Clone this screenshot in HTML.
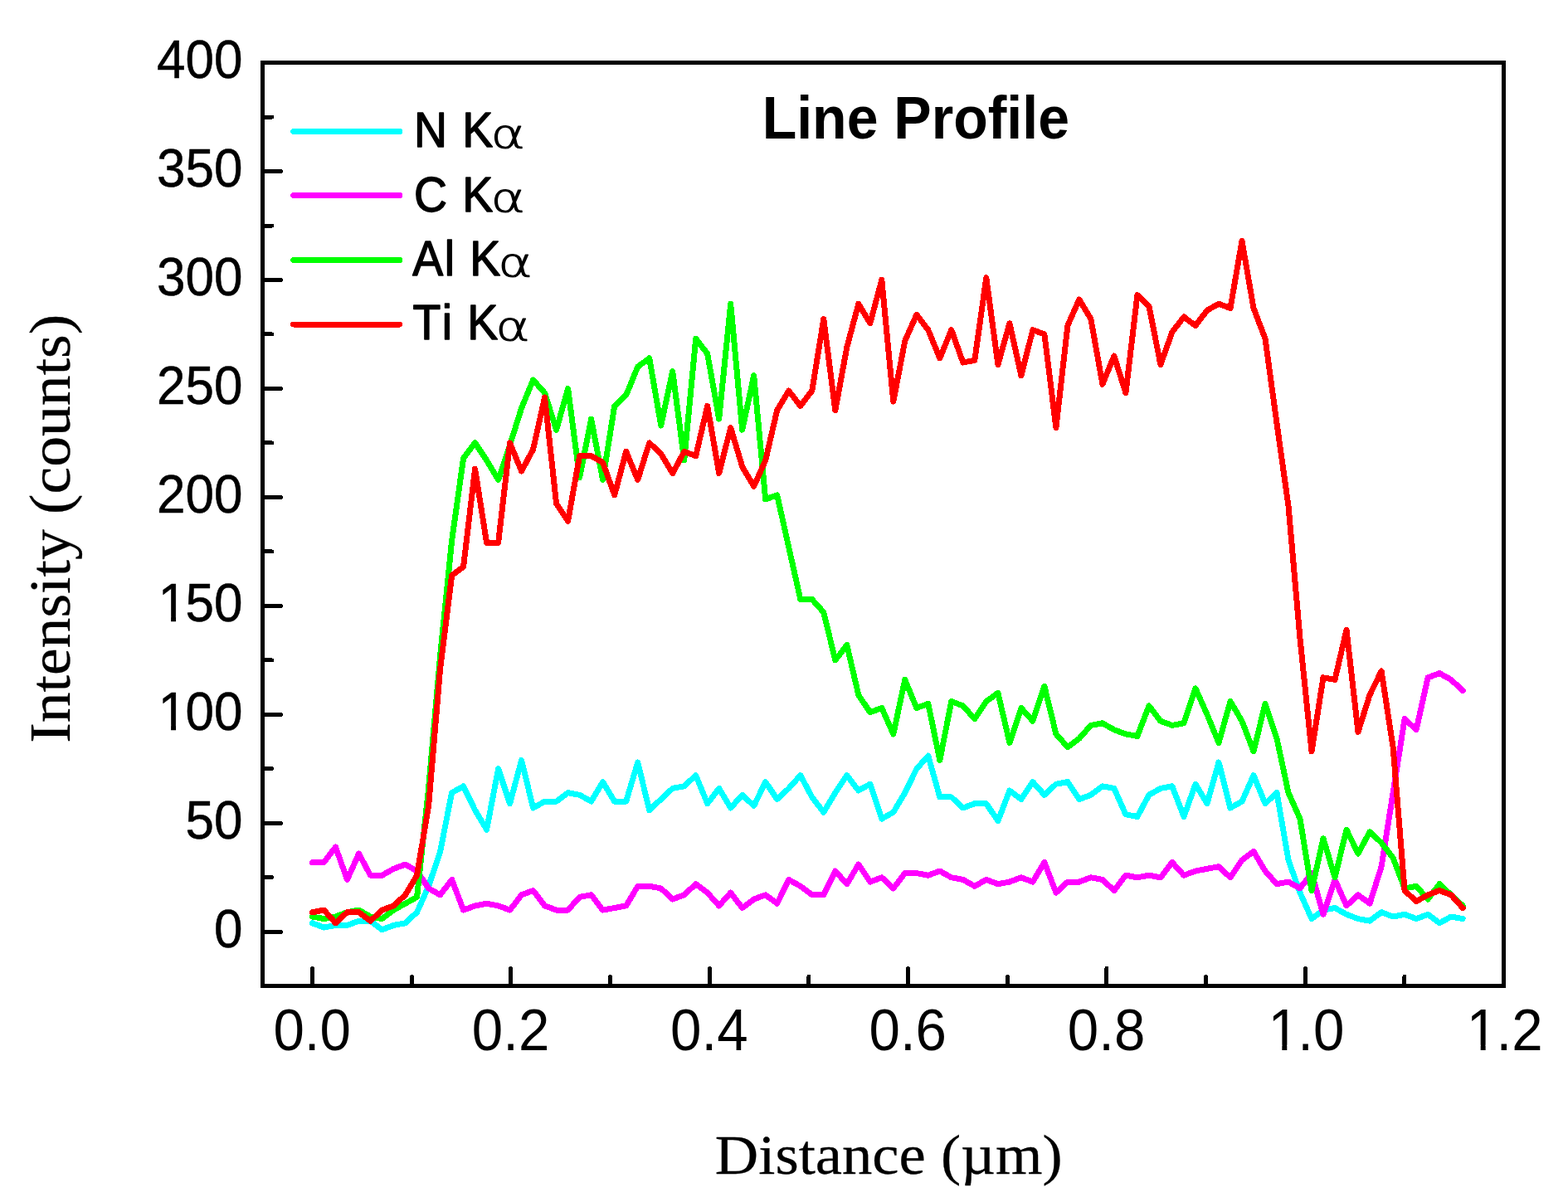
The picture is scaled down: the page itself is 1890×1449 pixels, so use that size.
<!DOCTYPE html>
<html><head><meta charset="utf-8"><title>Line Profile</title>
<style>html,body{margin:0;padding:0;background:#fff;}svg{display:block;}text{fill:#000;font-kerning:none;}.sans{font-family:"Liberation Sans",Arial,Helvetica,sans-serif;}.serif{font-family:"Liberation Serif","Times New Roman",serif;}</style></head><body>
<svg width="1890" height="1449" viewBox="0 0 1890 1449">
<rect x="0" y="0" width="1890" height="1449" fill="#fff"/>
<g shape-rendering="crispEdges">
<polyline points="376.5,1112.8 390.5,1118.1 404.5,1115.4 418.5,1115.4 432.5,1110.2 446.5,1110.2 460.5,1120.7 474.5,1115.4 488.5,1112.8 502.6,1099.7 516.6,1068.3 530.6,1026.4 544.6,955.7 558.6,947.8 572.6,976.6 586.6,1000.2 600.6,926.8 614.6,968.7 628.6,916.4 642.6,974.0 656.6,966.1 670.6,966.1 684.6,955.7 698.6,958.3 712.6,966.1 726.6,942.6 740.7,966.1 754.7,966.1 768.7,919.0 782.7,976.6 796.7,963.5 810.7,950.4 824.7,947.8 838.7,934.7 852.7,968.7 866.7,950.4 880.7,974.0 894.7,958.3 908.7,971.4 922.7,942.6 936.7,963.5 950.7,950.4 964.8,934.7 978.8,960.9 992.8,979.2 1006.8,955.7 1020.8,934.7 1034.8,953.0 1048.8,945.2 1062.8,987.1 1076.8,979.2 1090.8,955.7 1104.8,926.8 1118.8,911.1 1132.8,960.9 1146.8,960.9 1160.8,974.0 1174.8,968.7 1188.8,968.7 1202.9,989.7 1216.9,953.0 1230.9,963.5 1244.9,942.6 1258.9,958.3 1272.9,945.2 1286.9,942.6 1300.9,963.5 1314.9,958.3 1328.9,947.8 1342.9,950.4 1356.9,981.8 1370.9,984.5 1384.9,958.3 1398.9,950.4 1412.9,947.8 1427.0,984.5 1441.0,945.2 1455.0,968.7 1469.0,919.0 1483.0,974.0 1497.0,966.1 1511.0,934.7 1525.0,968.7 1539.0,955.7 1553.0,1036.9 1567.0,1076.1 1581.0,1107.6 1595.0,1097.1 1609.0,1094.5 1623.0,1102.3 1637.0,1107.6 1651.0,1110.2 1665.1,1099.7 1679.1,1105.0 1693.1,1102.3 1707.1,1107.6 1721.1,1102.3 1735.1,1112.8 1749.1,1105.0 1763.1,1107.6" fill="none" stroke="#00ffff" stroke-width="7" stroke-linejoin="round" stroke-linecap="round"/>
<polyline points="376.5,1039.5 390.5,1039.5 404.5,1021.1 418.5,1060.4 432.5,1029.0 446.5,1055.2 460.5,1055.2 474.5,1047.3 488.5,1042.1 502.6,1050.0 516.6,1070.9 530.6,1078.8 544.6,1060.4 558.6,1097.1 572.6,1091.9 586.6,1089.2 600.6,1091.9 614.6,1097.1 628.6,1078.8 642.6,1073.5 656.6,1091.9 670.6,1097.1 684.6,1097.1 698.6,1081.4 712.6,1078.8 726.6,1097.1 740.7,1094.5 754.7,1091.9 768.7,1068.3 782.7,1068.3 796.7,1070.9 810.7,1084.0 824.7,1078.8 838.7,1065.7 852.7,1076.1 866.7,1091.9 880.7,1076.1 894.7,1094.5 908.7,1084.0 922.7,1078.8 936.7,1089.2 950.7,1060.4 964.8,1068.3 978.8,1078.8 992.8,1078.8 1006.8,1050.0 1020.8,1065.7 1034.8,1042.1 1048.8,1063.1 1062.8,1057.8 1076.8,1070.9 1090.8,1052.6 1104.8,1052.6 1118.8,1055.2 1132.8,1050.0 1146.8,1057.8 1160.8,1060.4 1174.8,1068.3 1188.8,1060.4 1202.9,1065.7 1216.9,1063.1 1230.9,1057.8 1244.9,1063.1 1258.9,1039.5 1272.9,1076.1 1286.9,1063.1 1300.9,1063.1 1314.9,1057.8 1328.9,1060.4 1342.9,1073.5 1356.9,1055.2 1370.9,1057.8 1384.9,1055.2 1398.9,1057.8 1412.9,1039.5 1427.0,1055.2 1441.0,1050.0 1455.0,1047.3 1469.0,1044.7 1483.0,1057.8 1497.0,1036.9 1511.0,1026.4 1525.0,1050.0 1539.0,1065.7 1553.0,1063.1 1567.0,1070.9 1581.0,1052.6 1595.0,1102.3 1609.0,1060.4 1623.0,1091.9 1637.0,1078.8 1651.0,1089.2 1665.1,1044.7 1679.1,955.7 1693.1,866.6 1707.1,879.7 1721.1,816.8 1735.1,811.6 1749.1,819.4 1763.1,832.5" fill="none" stroke="#ff00ff" stroke-width="7" stroke-linejoin="round" stroke-linecap="round"/>
<polyline points="376.5,1105.0 390.5,1107.6 404.5,1105.0 418.5,1099.7 432.5,1097.1 446.5,1105.0 460.5,1107.6 474.5,1097.1 488.5,1089.2 502.6,1081.4 516.6,950.4 530.6,790.6 544.6,651.8 558.6,552.2 572.6,533.9 586.6,554.9 600.6,578.4 614.6,536.5 628.6,492.0 642.6,457.9 656.6,473.7 670.6,518.2 684.6,468.4 698.6,575.8 712.6,505.1 726.6,578.4 740.7,489.4 754.7,476.3 768.7,442.2 782.7,431.8 796.7,513.0 810.7,447.5 824.7,554.9 838.7,408.2 852.7,426.5 866.7,505.1 880.7,366.3 894.7,518.2 908.7,452.7 922.7,602.0 936.7,596.8 950.7,659.6 964.8,722.5 978.8,722.5 992.8,738.2 1006.8,795.9 1020.8,777.5 1034.8,837.8 1048.8,858.7 1062.8,853.5 1076.8,884.9 1090.8,819.4 1104.8,853.5 1118.8,848.3 1132.8,916.4 1146.8,845.6 1160.8,850.9 1174.8,866.6 1188.8,845.6 1202.9,835.2 1216.9,895.4 1230.9,853.5 1244.9,869.2 1258.9,827.3 1272.9,884.9 1286.9,900.6 1300.9,890.2 1314.9,874.4 1328.9,871.8 1342.9,879.7 1356.9,884.9 1370.9,887.5 1384.9,850.9 1398.9,869.2 1412.9,874.4 1427.0,871.8 1441.0,829.9 1455.0,861.3 1469.0,895.4 1483.0,845.6 1497.0,869.2 1511.0,905.9 1525.0,848.3 1539.0,890.2 1553.0,955.7 1567.0,987.1 1581.0,1073.5 1595.0,1010.7 1609.0,1057.8 1623.0,1000.2 1637.0,1029.0 1651.0,1002.8 1665.1,1015.9 1679.1,1034.2 1693.1,1070.9 1707.1,1068.3 1721.1,1084.0 1735.1,1065.7 1749.1,1078.8 1763.1,1091.9" fill="none" stroke="#00ff00" stroke-width="7" stroke-linejoin="round" stroke-linecap="round"/>
<polyline points="376.5,1099.7 390.5,1097.1 404.5,1112.8 418.5,1099.7 432.5,1099.7 446.5,1110.2 460.5,1097.1 474.5,1091.9 488.5,1078.8 502.6,1055.2 516.6,971.4 530.6,806.3 544.6,693.7 558.6,683.2 572.6,565.3 586.6,654.4 600.6,654.4 614.6,533.9 628.6,568.0 642.6,541.8 656.6,478.9 670.6,607.3 684.6,628.2 698.6,549.6 712.6,549.6 726.6,557.5 740.7,596.8 754.7,544.4 768.7,578.4 782.7,533.9 796.7,547.0 810.7,570.6 824.7,544.4 838.7,549.6 852.7,489.4 866.7,570.6 880.7,515.6 894.7,562.7 908.7,586.3 922.7,554.9 936.7,494.6 950.7,471.0 964.8,489.4 978.8,471.0 992.8,384.6 1006.8,494.6 1020.8,418.7 1034.8,366.3 1048.8,389.8 1062.8,337.4 1076.8,484.1 1090.8,410.8 1104.8,379.4 1118.8,397.7 1132.8,431.8 1146.8,397.7 1160.8,437.0 1174.8,434.4 1188.8,334.8 1202.9,439.6 1216.9,389.8 1230.9,452.7 1244.9,397.7 1258.9,402.9 1272.9,515.6 1286.9,392.5 1300.9,361.0 1314.9,384.6 1328.9,463.2 1342.9,429.1 1356.9,473.7 1370.9,355.8 1384.9,368.9 1398.9,439.6 1412.9,400.3 1427.0,382.0 1441.0,392.5 1455.0,374.1 1469.0,366.3 1483.0,371.5 1497.0,290.3 1511.0,371.5 1525.0,408.2 1539.0,510.3 1553.0,609.9 1567.0,769.7 1581.0,905.9 1595.0,816.8 1609.0,819.4 1623.0,759.2 1637.0,882.3 1651.0,837.8 1665.1,809.0 1679.1,900.6 1693.1,1073.5 1707.1,1086.6 1721.1,1078.8 1735.1,1073.5 1749.1,1078.8 1763.1,1094.5" fill="none" stroke="#ff0000" stroke-width="7" stroke-linejoin="round" stroke-linecap="round"/>
<line x1="353.7" y1="158.5" x2="481.8" y2="158.5" stroke="#00ffff" stroke-width="7" stroke-linecap="round"/>
<line x1="353.7" y1="235.5" x2="481.8" y2="235.5" stroke="#ff00ff" stroke-width="7" stroke-linecap="round"/>
<line x1="353.7" y1="313.5" x2="481.8" y2="313.5" stroke="#00ff00" stroke-width="7" stroke-linecap="round"/>
<line x1="353.7" y1="391.0" x2="481.8" y2="391.0" stroke="#ff0000" stroke-width="7" stroke-linecap="round"/>
<g stroke="#000" stroke-width="5" stroke-linecap="round">
<line x1="316.5" y1="1123.3" x2="338.5" y2="1123.3"/>
<line x1="316.5" y1="1057.8" x2="327.5" y2="1057.8"/>
<line x1="316.5" y1="992.3" x2="338.5" y2="992.3"/>
<line x1="316.5" y1="926.8" x2="327.5" y2="926.8"/>
<line x1="316.5" y1="861.3" x2="338.5" y2="861.3"/>
<line x1="316.5" y1="795.9" x2="327.5" y2="795.9"/>
<line x1="316.5" y1="730.4" x2="338.5" y2="730.4"/>
<line x1="316.5" y1="664.9" x2="327.5" y2="664.9"/>
<line x1="316.5" y1="599.4" x2="338.5" y2="599.4"/>
<line x1="316.5" y1="533.9" x2="327.5" y2="533.9"/>
<line x1="316.5" y1="468.4" x2="338.5" y2="468.4"/>
<line x1="316.5" y1="402.9" x2="327.5" y2="402.9"/>
<line x1="316.5" y1="337.4" x2="338.5" y2="337.4"/>
<line x1="316.5" y1="272.0" x2="327.5" y2="272.0"/>
<line x1="316.5" y1="206.5" x2="338.5" y2="206.5"/>
<line x1="316.5" y1="141.0" x2="327.5" y2="141.0"/>
<line x1="316.5" y1="75.5" x2="338.5" y2="75.5"/>
<line x1="376.5" y1="1188.5" x2="376.5" y2="1167.5"/>
<line x1="496.2" y1="1188.5" x2="496.2" y2="1177.5"/>
<line x1="615.8" y1="1188.5" x2="615.8" y2="1167.5"/>
<line x1="735.5" y1="1188.5" x2="735.5" y2="1177.5"/>
<line x1="855.2" y1="1188.5" x2="855.2" y2="1167.5"/>
<line x1="974.9" y1="1188.5" x2="974.9" y2="1177.5"/>
<line x1="1094.5" y1="1188.5" x2="1094.5" y2="1167.5"/>
<line x1="1214.2" y1="1188.5" x2="1214.2" y2="1177.5"/>
<line x1="1333.9" y1="1188.5" x2="1333.9" y2="1167.5"/>
<line x1="1453.5" y1="1188.5" x2="1453.5" y2="1177.5"/>
<line x1="1573.2" y1="1188.5" x2="1573.2" y2="1167.5"/>
<line x1="1692.9" y1="1188.5" x2="1692.9" y2="1177.5"/>
<line x1="1812.5" y1="1188.5" x2="1812.5" y2="1167.5"/>
</g>
<rect x="316.5" y="75.5" width="1496.0" height="1113.0" fill="none" stroke="#000" stroke-width="5"/>
</g>
<text class="sans" font-size="62.00" text-anchor="end" stroke="#000" stroke-width="0.50" stroke-linejoin="round" transform="translate(292.50 1141.50) scale(1.0000 1.0450)">0</text>
<text class="sans" font-size="62.00" text-anchor="end" stroke="#000" stroke-width="0.50" stroke-linejoin="round" transform="translate(292.50 1010.52) scale(1.0000 1.0450)">50</text>
<clipPath id="k1" clipPathUnits="userSpaceOnUse"><path clip-rule="evenodd" d="M-600,-120H200V60H-600Z M-99.03,-5.88H-86.41V6H-99.03Z M-80.44,-5.88H-68.30V6H-80.44Z"/></clipPath>
<text class="sans" font-size="62.00" text-anchor="end" stroke="#000" stroke-width="0.50" stroke-linejoin="round" transform="translate(292.50 879.55) scale(1.0000 1.0450)" dx="0 -1.70" clip-path="url(#k1)">100</text>
<clipPath id="k2" clipPathUnits="userSpaceOnUse"><path clip-rule="evenodd" d="M-600,-120H200V60H-600Z M-99.03,-5.88H-86.41V6H-99.03Z M-80.44,-5.88H-68.30V6H-80.44Z"/></clipPath>
<text class="sans" font-size="62.00" text-anchor="end" stroke="#000" stroke-width="0.50" stroke-linejoin="round" transform="translate(292.50 748.58) scale(1.0000 1.0450)" dx="0 -1.70" clip-path="url(#k2)">150</text>
<text class="sans" font-size="62.00" text-anchor="end" stroke="#000" stroke-width="0.50" stroke-linejoin="round" transform="translate(292.50 617.60) scale(1.0000 1.0450)">200</text>
<text class="sans" font-size="62.00" text-anchor="end" stroke="#000" stroke-width="0.50" stroke-linejoin="round" transform="translate(292.50 486.62) scale(1.0000 1.0450)">250</text>
<text class="sans" font-size="62.00" text-anchor="end" stroke="#000" stroke-width="0.50" stroke-linejoin="round" transform="translate(292.50 355.65) scale(1.0000 1.0450)">300</text>
<text class="sans" font-size="62.00" text-anchor="end" stroke="#000" stroke-width="0.50" stroke-linejoin="round" transform="translate(292.50 224.68) scale(1.0000 1.0450)">350</text>
<text class="sans" font-size="62.00" text-anchor="end" stroke="#000" stroke-width="0.50" stroke-linejoin="round" transform="translate(292.50 93.70) scale(1.0000 1.0450)">400</text>
<text class="sans" font-size="67.30" text-anchor="middle" transform="translate(376.20 1266.00) scale(1.0000 1.0550)">0.0</text>
<text class="sans" font-size="67.30" text-anchor="middle" transform="translate(615.54 1266.00) scale(1.0000 1.0550)">0.2</text>
<text class="sans" font-size="67.30" text-anchor="middle" transform="translate(854.88 1266.00) scale(1.0000 1.0550)">0.4</text>
<text class="sans" font-size="67.30" text-anchor="middle" transform="translate(1094.22 1266.00) scale(1.0000 1.0550)">0.6</text>
<text class="sans" font-size="67.30" text-anchor="middle" transform="translate(1333.56 1266.00) scale(1.0000 1.0550)">0.8</text>
<clipPath id="k3" clipPathUnits="userSpaceOnUse"><path clip-rule="evenodd" d="M-600,-120H200V60H-600Z M-42.85,-6.03H-29.05V6H-42.85Z M-23.11,-6.03H-9.84V6H-23.11Z"/></clipPath>
<text class="sans" font-size="67.30" text-anchor="middle" transform="translate(1574.40 1266.00) scale(1.0000 1.0550)" dx="0 -1.60" clip-path="url(#k3)">1.0</text>
<clipPath id="k4" clipPathUnits="userSpaceOnUse"><path clip-rule="evenodd" d="M-600,-120H200V60H-600Z M-42.85,-6.03H-29.05V6H-42.85Z M-23.11,-6.03H-9.84V6H-23.11Z"/></clipPath>
<text class="sans" font-size="67.30" text-anchor="middle" transform="translate(1813.74 1266.00) scale(1.0000 1.0550)" dx="0 -1.60" clip-path="url(#k4)">1.2</text>
<text class="sans" font-size="68.00" text-anchor="middle" font-weight="bold" transform="translate(1103.80 166.70) scale(1.0000 1.0500)">Line Profile</text>
<text class="sans" font-size="58.00" text-anchor="start" stroke="#000" stroke-width="1.40" stroke-linejoin="round" transform="translate(499.06 177.40) scale(0.9550 1.0250)" letter-spacing="1.47">N K<tspan font-family="DejaVu Sans" font-weight="200" font-size="46.60" stroke-width="1.00" letter-spacing="0" dx="-4.40" dy="0.80" textLength="43.50" lengthAdjust="spacingAndGlyphs">α</tspan></text>
<text class="sans" font-size="58.00" text-anchor="start" stroke="#000" stroke-width="1.40" stroke-linejoin="round" transform="translate(499.06 254.60) scale(0.9550 1.0250)" letter-spacing="1.47">C K<tspan font-family="DejaVu Sans" font-weight="200" font-size="46.60" stroke-width="1.00" letter-spacing="0" dx="-4.40" dy="0.80" textLength="43.50" lengthAdjust="spacingAndGlyphs">α</tspan></text>
<text class="sans" font-size="58.00" text-anchor="start" stroke="#000" stroke-width="1.40" stroke-linejoin="round" transform="translate(497.30 332.10) scale(0.9550 1.0250)" letter-spacing="1.47">Al K<tspan font-family="DejaVu Sans" font-weight="200" font-size="46.60" stroke-width="1.00" letter-spacing="0" dx="-4.40" dy="0.80" textLength="43.50" lengthAdjust="spacingAndGlyphs">α</tspan></text>
<text class="sans" font-size="58.00" text-anchor="start" stroke="#000" stroke-width="1.40" stroke-linejoin="round" transform="translate(497.50 409.20) scale(0.9550 1.0250)" letter-spacing="1.47">Ti K<tspan font-family="DejaVu Sans" font-weight="200" font-size="46.60" stroke-width="1.00" letter-spacing="0" dx="-4.40" dy="0.80" textLength="43.50" lengthAdjust="spacingAndGlyphs">α</tspan></text>
<text class="serif" font-size="66.00" text-anchor="middle" stroke="#000" stroke-width="0.30" stroke-linejoin="round" transform="translate(1071.20 1414.50) scale(1.1000 1.0300)">Distance (µm)</text>
<text class="serif" font-size="66.00" text-anchor="middle" stroke="#000" stroke-width="0.30" stroke-linejoin="round" transform="translate(84.00 637.30) rotate(-90) scale(1.1150 1.0500)">Intensity (counts)</text>
</svg></body></html>
